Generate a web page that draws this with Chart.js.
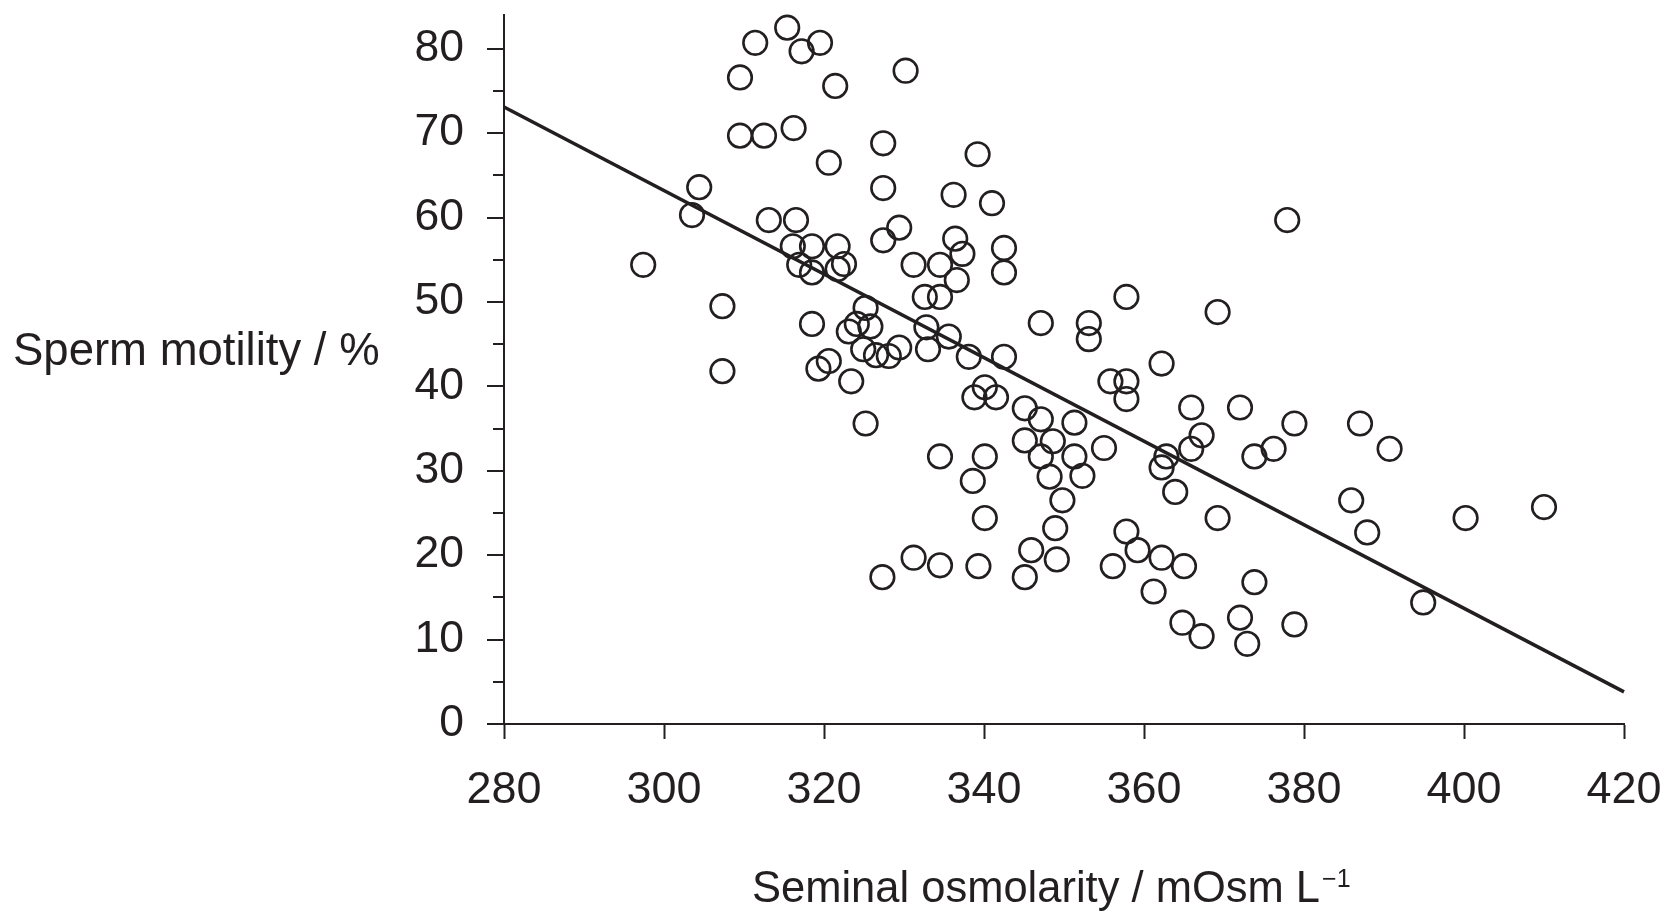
<!DOCTYPE html>
<html>
<head>
<meta charset="utf-8">
<script src="https://cdn.jsdelivr.net/npm/chart.js@4"></script>
<style>
  html, body { margin: 0; padding: 0; background: #ffffff; }
  canvas { display: block; }
</style>
</head>
<body>
<canvas id="chart" width="1675" height="922"></canvas>
<script>
// ---- data ----
const osmolarity = [
  297.4, 303.5, 304.4, 307.3, 307.3, 309.5, 309.5, 311.4, 312.5, 313.1,
  315.4, 316.1, 316.2, 316.5, 317.2, 316.9, 318.5, 318.5, 318.5, 319.5,
  319.3, 320.6, 320.6, 321.4, 321.7, 321.7, 322.5, 323.1, 323.4, 324.1,
  325.2, 324.9, 325.8, 325.2, 326.5, 327.3, 327.4, 327.4, 327.4, 328.1,
  329.4, 329.4, 330.2, 331.2, 331.2, 332.6, 332.8, 333.0, 334.5, 334.5,
  334.5, 334.5, 335.6, 336.2, 336.4, 336.6, 337.3, 338.1, 338.6, 338.8,
  339.2, 339.3, 340.1, 340.1, 340.1, 341.0, 341.5, 342.5, 342.5, 342.5,
  345.1, 345.1, 345.1, 345.9, 347.1, 347.1, 347.1, 348.2, 348.6, 348.9,
  349.1, 349.8, 351.3, 351.3, 352.3, 353.1, 353.1, 355.0, 355.8, 356.1,
  357.8, 357.8, 357.8, 357.8, 359.2, 361.2, 362.2, 362.2, 362.2, 362.8,
  363.9, 364.8, 365.0, 365.9, 365.9, 367.2, 367.2, 369.2, 369.2, 372.0,
  372.0, 372.9, 373.8, 373.8, 376.2, 377.9, 378.8, 378.8, 385.9, 387.0,
  387.9, 390.7, 394.9, 400.2, 410.0
];
const motility = [
  54.4, 60.3, 63.6, 49.5, 41.8, 76.6, 69.7, 80.7, 69.7, 59.7,
  82.5, 56.6, 70.6, 59.7, 79.7, 54.4, 56.6, 53.5, 47.4, 80.7,
  42.1, 43.0, 66.5, 75.6, 56.6, 53.9, 54.5, 46.5, 40.6, 47.4,
  49.3, 44.4, 47.1, 35.6, 43.7, 17.4, 68.8, 63.5, 57.3, 43.6,
  44.6, 58.8, 77.4, 54.4, 19.7, 50.6, 47.0, 44.4, 54.4, 50.6,
  31.7, 18.8, 45.9, 62.7, 57.5, 52.6, 55.7, 43.5, 28.8, 38.7,
  67.5, 18.7, 39.9, 31.7, 24.4, 61.7, 38.7, 56.4, 53.5, 43.5,
  37.4, 33.6, 17.4, 20.6, 47.5, 36.1, 31.7, 29.3, 33.5, 23.2,
  19.5, 26.5, 35.7, 31.7, 29.4, 47.5, 45.6, 32.7, 40.6, 18.7,
  50.6, 40.6, 38.5, 22.8, 20.6, 15.7, 42.7, 30.4, 19.7, 31.7,
  27.5, 12.0, 18.7, 37.5, 32.6, 34.2, 10.4, 48.8, 24.4, 37.5,
  12.6, 9.5, 31.7, 16.8, 32.6, 59.7, 35.6, 11.8, 26.5, 35.6,
  22.7, 32.6, 14.4, 24.4, 25.7
];
// regression line end points
const fitLineX = [280, 420];
const fitLineY = [73.1, 3.8];

// axis ticks
const xTicks = [280, 300, 320, 340, 360, 380, 400, 420];
const yTicks = [0, 10, 20, 30, 40, 50, 60, 70, 80];
const yMinorTicks = [5, 15, 25, 35, 45, 55, 65, 75];

// texts
const xTitle = 'Seminal osmolarity / mOsm L';
const xTitleSup = '\u22121';
const yTitle = 'Sperm motility / %';

// ---- styling ----
const INK = '#231f20';
const FONT = '"Liberation Sans", Arial, Helvetica, sans-serif';
Chart.defaults.font.family = FONT;
Chart.defaults.color = INK;

const points = osmolarity.map((x, i) => ({ x: x, y: motility[i] }));
const fitLine = fitLineX.map((x, i) => ({ x: x, y: fitLineY[i] }));

const axisDecor = {
  id: 'axisDecor',
  afterDraw(chart) {
    const { ctx, chartArea, scales } = chart;
    const y = scales.y;
    const left = chartArea.left;
    ctx.save();
    ctx.strokeStyle = INK;
    ctx.lineWidth = 2;
    ctx.lineCap = 'butt';
    const tick = (v, len) => {
      const py = Math.round(y.getPixelForValue(v));
      ctx.beginPath();
      ctx.moveTo(left - len, py);
      ctx.lineTo(left, py);
      ctx.stroke();
    };
    yTicks.forEach(v => tick(v, 17));
    yMinorTicks.forEach(v => tick(v, 11));

    ctx.fillStyle = INK;
    ctx.textBaseline = 'alphabetic';
    ctx.textAlign = 'left';
    ctx.font = '45.5px ' + FONT;
    ctx.fillText(yTitle, 13, 365);

    const tx = 752, ty = 902;
    ctx.font = '43.5px ' + FONT;
    ctx.fillText(xTitle, tx, ty);
    const w1 = ctx.measureText(xTitle).width;
    ctx.font = '25px ' + FONT;
    ctx.fillText(xTitleSup, tx + w1 + 2, ty - 15);
    ctx.restore();
  }
};

new Chart(document.getElementById('chart').getContext('2d'), {
  type: 'scatter',
  data: {
    datasets: [
      {
        data: points,
        pointStyle: 'circle',
        pointRadius: 11.8,
        pointHoverRadius: 11.8,
        pointBorderWidth: 2.6,
        borderColor: INK,
        backgroundColor: 'rgba(0,0,0,0)',
        clip: false
      },
      {
        type: 'line',
        data: fitLine,
        borderColor: INK,
        borderWidth: 3.6,
        pointRadius: 0,
        fill: false,
        tension: 0,
        clip: false
      }
    ]
  },
  options: {
    responsive: false,
    animation: false,
    events: [],
    layout: { padding: { top: 15, right: 51, left: 0, bottom: 0 } },
    plugins: { legend: { display: false }, tooltip: { enabled: false } },
    scales: {
      x: {
        type: 'linear',
        min: 280,
        max: 420,
        afterBuildTicks: s => { s.ticks = xTicks.map(v => ({ value: v })); },
        grid: { display: true, drawOnChartArea: false, drawTicks: true, tickLength: 15, tickWidth: 2, tickColor: INK },
        border: { display: true, color: INK, width: 2 },
        ticks: { font: { size: 45 }, color: INK, padding: 25, maxRotation: 0, autoSkip: false },
        afterFit: s => { s.height = 922 - 724; s.paddingLeft = 0; s.paddingRight = 0; }
      },
      y: {
        type: 'linear',
        min: 0,
        max: 84,
        afterBuildTicks: s => { s.ticks = yTicks.map(v => ({ value: v })); },
        grid: { display: false, drawTicks: false },
        border: { display: true, color: INK, width: 2 },
        ticks: { font: { size: 44.5 }, color: INK, padding: 40, autoSkip: false },
        afterFit: s => { s.width = 504; s.paddingTop = 0; s.paddingBottom = 0; }
      }
    }
  },
  plugins: [axisDecor]
});
</script>
</body>
</html>
